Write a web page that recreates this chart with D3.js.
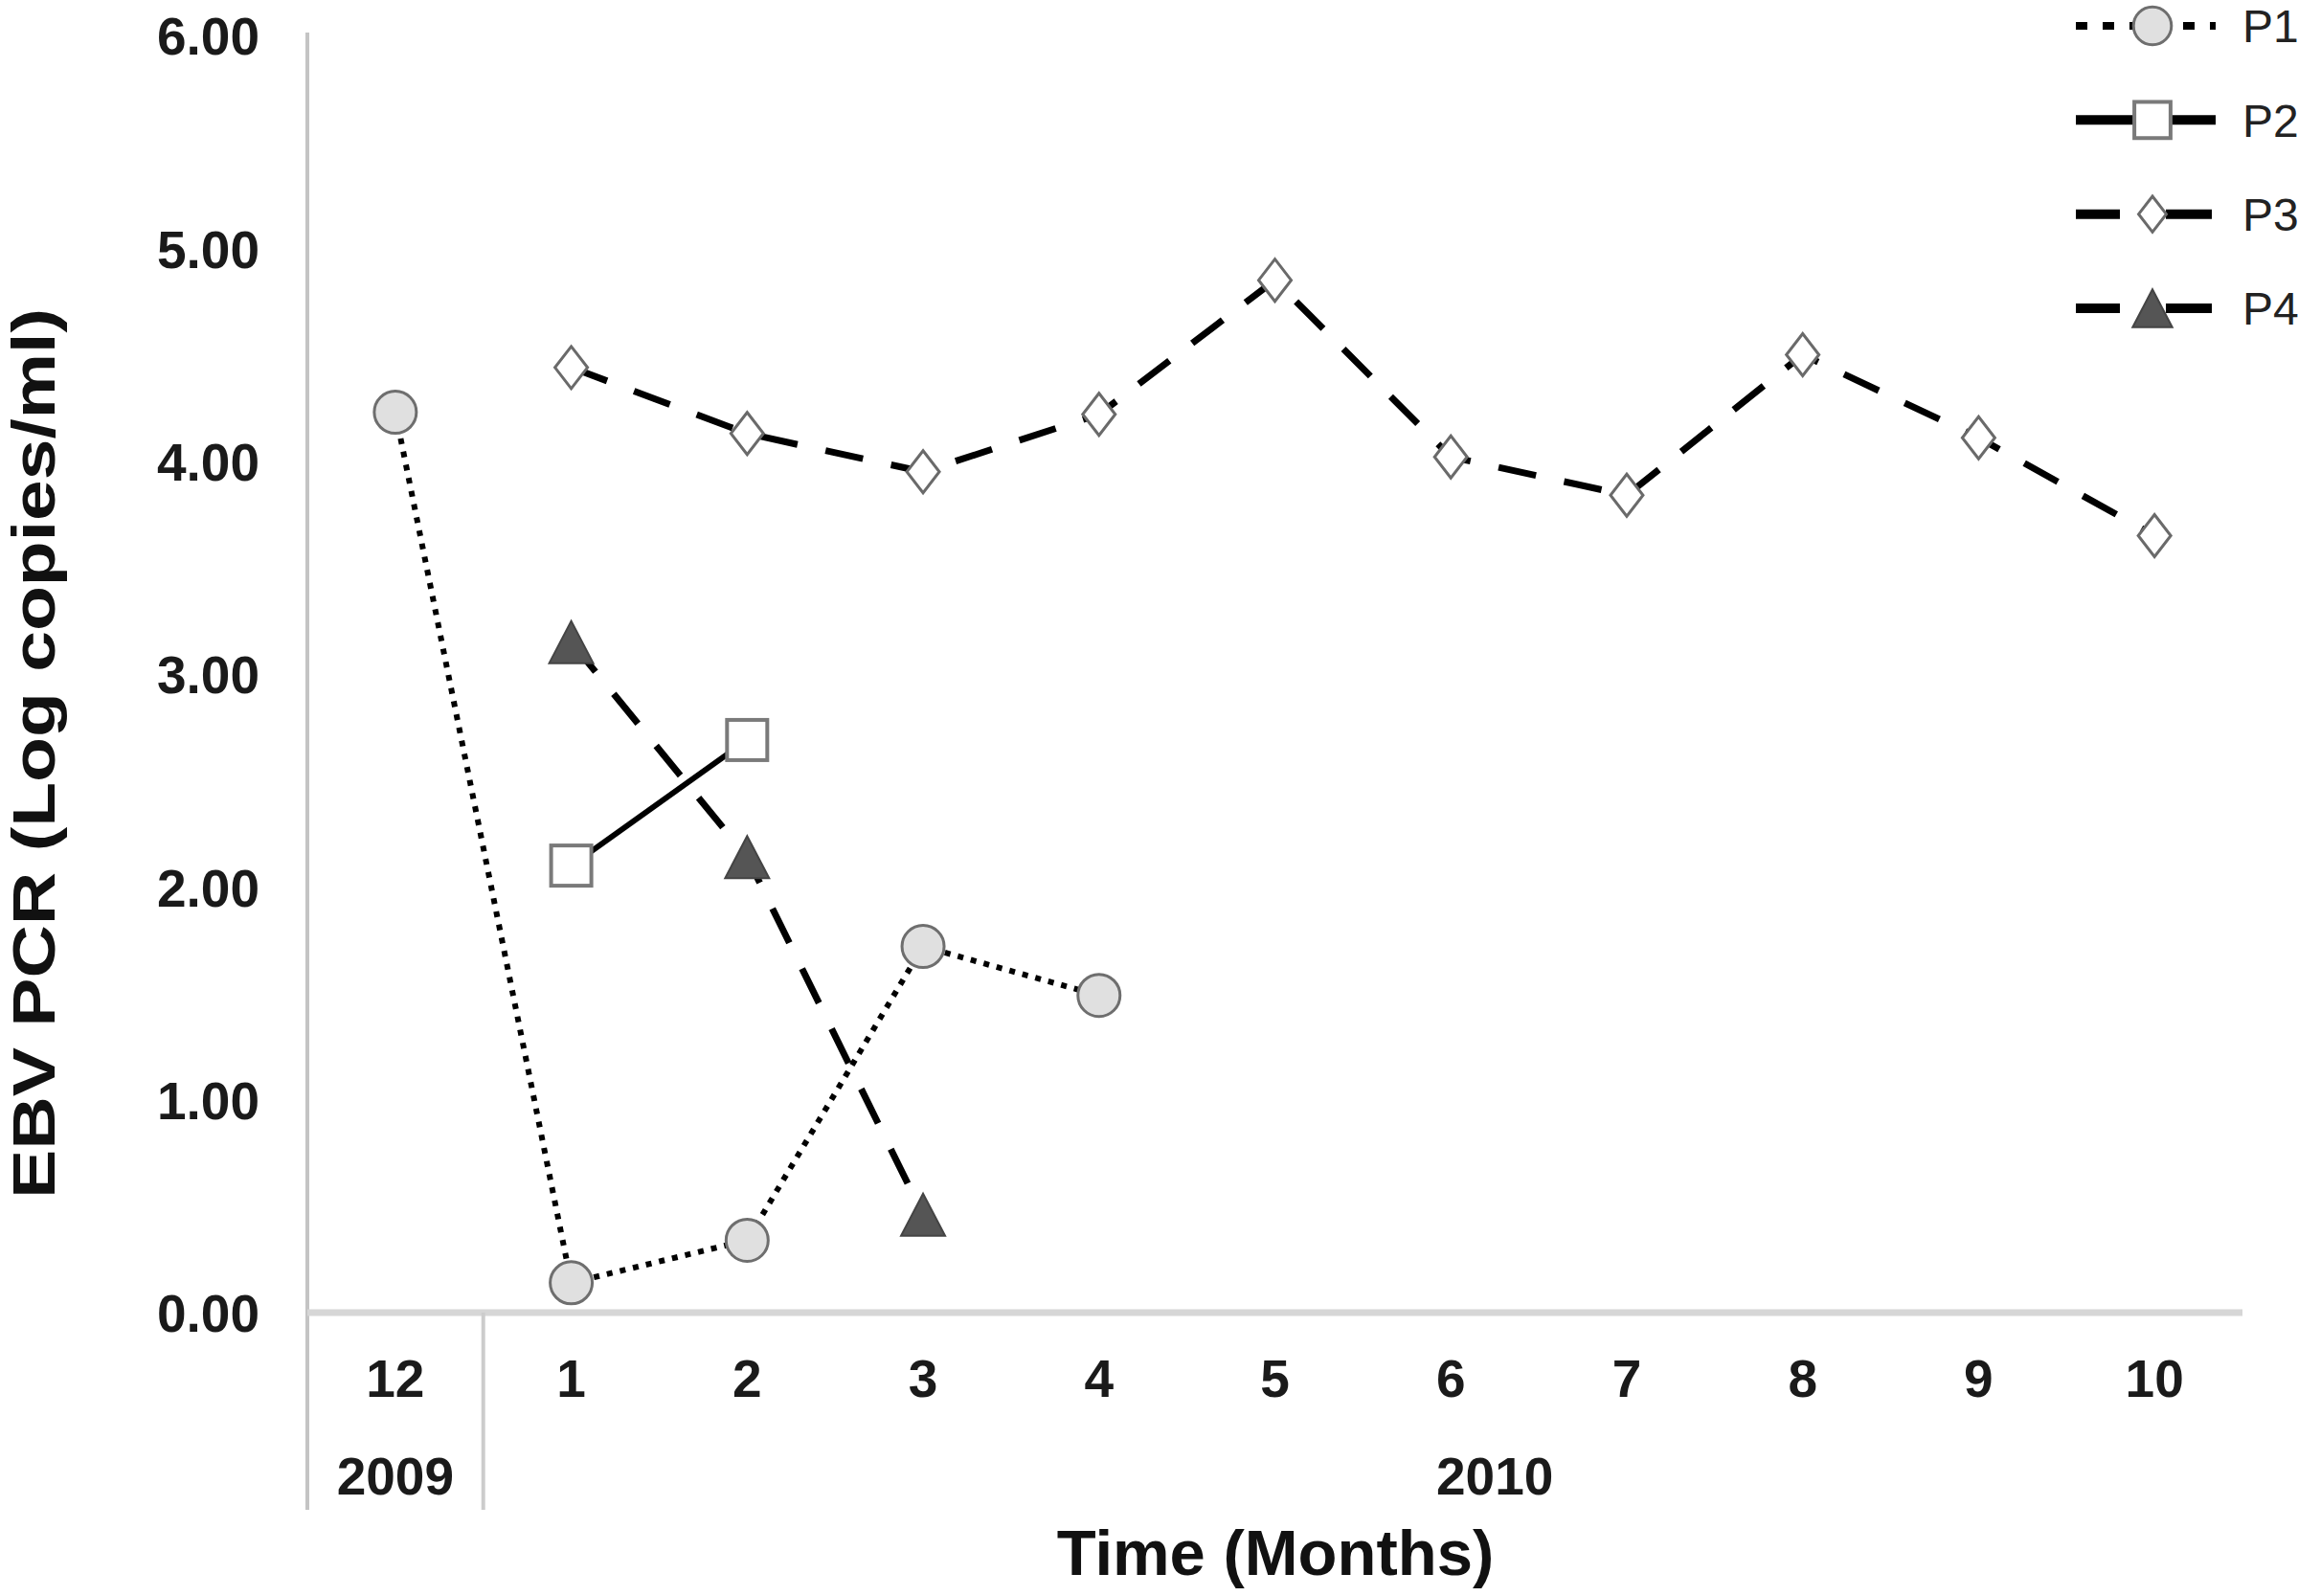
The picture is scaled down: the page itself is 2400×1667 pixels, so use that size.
<!DOCTYPE html>
<html>
<head>
<meta charset="utf-8">
<script src="https://cdn.jsdelivr.net/npm/d3@7"></script>
<style>
  html, body { margin: 0; padding: 0; background: #fff; }
  svg { display: block; }
  text { font-family: "Liberation Sans", Arial, sans-serif; }
</style>
</head>
<body>
<svg id="chart" width="2400" height="1667"></svg>
<script>
// ---- data ----
const months = ["12", "1", "2", "3", "4", "5", "6", "7", "8", "9", "10"];
const years = [
  { label: "2009", from: "12", to: "12" },
  { label: "2010", from: "1", to: "10" }
];
const yTicks = [0, 1, 2, 3, 4, 5, 6];

const p1Months = ["12", "1", "2", "3", "4"];
const p1Values = [4.23, 0.14, 0.34, 1.72, 1.49];
const p2Months = ["1", "2"];
const p2Values = [2.10, 2.69];
const p3Months = ["1", "2", "3", "4", "5", "6", "7", "8", "9", "10"];
const p3Values = [4.44, 4.13, 3.95, 4.22, 4.85, 4.02, 3.84, 4.50, 4.11, 3.65];
const p4Months = ["1", "2", "3"];
const p4Values = [3.15, 2.14, 0.46];

const seriesNames = ["P1", "P2", "P3", "P4"];

// ---- layout ----
const svg = d3.select("#chart");
const plotLeft = 321, plotRight = 2342, plotTop = 37, plotBase = 1371, bottomExt = 1577;

const x = d3.scaleBand().domain(months).range([plotLeft, plotRight]).padding(0);
const y = d3.scaleLinear().domain([0, 6]).range([plotBase, plotTop]);
const cx = m => x(m) + x.bandwidth() / 2;

// axes lines
svg.append("line").attr("x1", plotLeft).attr("x2", plotLeft)
  .attr("y1", y(6) - 3).attr("y2", bottomExt)
  .attr("stroke", "#c4c4c4").attr("stroke-width", 4);
svg.append("line").attr("x1", plotLeft).attr("x2", plotRight)
  .attr("y1", y(0)).attr("y2", y(0))
  .attr("stroke", "#d6d6d6").attr("stroke-width", 7);
// year separator
svg.append("line").attr("x1", x("1")).attr("x2", x("1"))
  .attr("y1", y(0)).attr("y2", bottomExt)
  .attr("stroke", "#cccccc").attr("stroke-width", 4);

// y axis labels
const yAxis = d3.axisLeft(y).tickValues(yTicks).tickFormat(d3.format(".2f")).tickSize(0).tickPadding(0);
const gy = svg.append("g").attr("transform", `translate(${271},0)`).call(yAxis);
gy.select(".domain").remove();
gy.selectAll("text").attr("font-size", 55).attr("font-weight", "bold").attr("fill", "#1a1a1a")
  .attr("font-family", "Liberation Sans, Arial, sans-serif").attr("dy", "0.36em");

// x axis month labels
const xAxis = d3.axisBottom(x).tickSize(0).tickPadding(0);
const gx = svg.append("g").attr("transform", `translate(0,${1459})`).call(xAxis);
gx.select(".domain").remove();
gx.selectAll("text").attr("font-size", 55).attr("font-weight", "bold").attr("fill", "#1a1a1a")
  .attr("font-family", "Liberation Sans, Arial, sans-serif").attr("dy", 0);

// year labels
svg.append("text").attr("x", cx("12")).attr("y", 1561)
  .attr("text-anchor", "middle").attr("font-size", 55).attr("font-weight", "bold").attr("fill", "#1a1a1a")
  .text(years[0].label);
svg.append("text").attr("x", x("6") + x.bandwidth() * 0.75).attr("y", 1561)
  .attr("text-anchor", "middle").attr("font-size", 55).attr("font-weight", "bold").attr("fill", "#1a1a1a")
  .text(years[1].label);

// axis titles
svg.append("text").attr("x", 1332).attr("y", 1645)
  .attr("text-anchor", "middle").attr("font-size", 67).attr("font-weight", "bold").attr("fill", "#111")
  .text("Time (Months)");
svg.append("text").attr("transform", `translate(57,787) rotate(-90)`)
  .attr("text-anchor", "middle").attr("font-size", 63).attr("font-weight", "bold").attr("fill", "#111")
  .attr("textLength", 930).attr("lengthAdjust", "spacingAndGlyphs")
  .text("EBV PCR (Log copies/ml)");

// ---- series ----
const line = d3.line().x(d => cx(d.m)).y(d => y(d.v));
const zip = (ms, vs) => ms.map((m, i) => ({ m, v: vs[i] }));

const styles = {
  P1: { dash: "6,8", width: 6, cap: "butt" },
  P2: { dash: null, width: 6, cap: "butt" },
  P3: { dash: "40,30", width: 7, cap: "butt" },
  P4: { dash: "40,30", width: 7, cap: "butt" }
};

const data = {
  P1: zip(p1Months, p1Values),
  P2: zip(p2Months, p2Values),
  P3: zip(p3Months, p3Values),
  P4: zip(p4Months, p4Values)
};

function drawMarker(g, name, px, py, scale) {
  const s = scale || 1;
  if (name === "P1") {
    g.append("circle").attr("cx", px).attr("cy", py).attr("r", 22 * s)
      .attr("fill", "#e0e0e0").attr("stroke", "#6e6e6e").attr("stroke-width", 3);
  } else if (name === "P2") {
    const h = 21 * s;
    g.append("rect").attr("x", px - h).attr("y", py - h).attr("width", 2 * h).attr("height", 2 * h)
      .attr("fill", "#fff").attr("stroke", "#7a7a7a").attr("stroke-width", 4);
  } else if (name === "P3") {
    const w = 17 * s, h = 22 * s;
    g.append("path").attr("d", `M${px},${py - h}L${px + w},${py}L${px},${py + h}L${px - w},${py}Z`)
      .attr("fill", "#fff").attr("stroke", "#6a6a6a").attr("stroke-width", 3);
  } else if (name === "P4") {
    const w = 23 * s, h = 22 * s;
    g.append("path").attr("d", `M${px},${py - h}L${px + w},${py + h}L${px - w},${py + h}Z`)
      .attr("fill", "#555").attr("stroke", "#444").attr("stroke-width", 2);
  }
}

// lines (P3 first, then P4, P2, P1)
["P3", "P4", "P2", "P1"].forEach(name => {
  const st = styles[name];
  svg.append("path").datum(data[name]).attr("d", line)
    .attr("fill", "none").attr("stroke", "#000").attr("stroke-width", st.width)
    .attr("stroke-dasharray", st.dash).attr("stroke-linecap", st.cap);
});
// markers
["P3", "P4", "P2", "P1"].forEach(name => {
  const g = svg.append("g");
  data[name].forEach(d => drawMarker(g, name, cx(d.m), y(d.v)));
});

// ---- legend ----
const legendY = d3.scalePoint().domain(seriesNames).range([27, 322]);
const lg = svg.append("g");
seriesNames.forEach(name => {
  const ly = legendY(name);
  lg.append("line").attr("x1", 2168).attr("x2", 2314).attr("y1", ly).attr("y2", ly)
    .attr("stroke", "#000").attr("stroke-width", name === "P1" ? 8 : 10)
    .attr("stroke-dasharray", name === "P1" ? "12,16" : (name === "P2" ? null : "46,600"));
  if (name === "P3" || name === "P4") {
    lg.append("line").attr("x1", 2262).attr("x2", 2310).attr("y1", ly).attr("y2", ly)
      .attr("stroke", "#000").attr("stroke-width", 10);
  }
  drawMarker(lg, name, 2248, ly, name === "P3" ? 0.85 : 0.9);
  lg.append("text").attr("x", 2342).attr("y", ly).attr("dy", "0.36em")
    .attr("font-size", 48).attr("fill", "#222").text(name);
});
</script>
</body>
</html>
